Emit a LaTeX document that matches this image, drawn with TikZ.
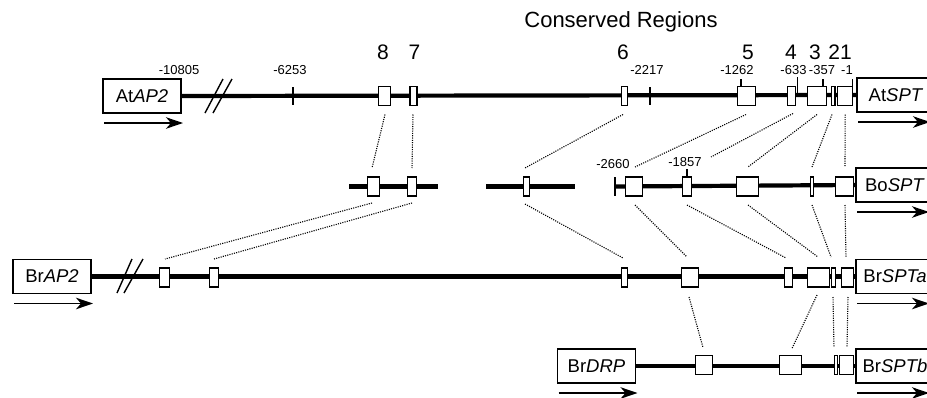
\documentclass[tikz,border=0pt]{standalone}
\usepackage{fontspec}
\setmainfont{Liberation Sans}
\usetikzlibrary{calc,arrows.meta}
\begin{document}
\begin{tikzpicture}[x=1pt,y=-1pt,
 seg/.style={line width=4.2pt},
 rbox/.style={draw, fill=white, line width=1.4pt, minimum height=19pt, inner sep=0pt, outer sep=0pt},
 gene/.style={draw, fill=white, line width=1.3pt, minimum width=78pt, minimum height=34pt, inner sep=0pt, outer sep=0pt, font=\fontsize{18.5}{20}\selectfont},
 conn/.style={line width=1.1pt, dash pattern=on 1.1pt off 1.2pt},
 tickmark/.style={line width=1.4pt},
 dir/.style={line width=1.5pt, -{Stealth[length=17pt,width=11.5pt,inset=5pt]}},
 big/.style={font=\fontsize{21}{24}\selectfont, anchor=base, inner sep=0pt},
 small/.style={font=\fontsize{13}{15}\selectfont, anchor=base, inner sep=0pt},
 brk/.style={line width=1.4pt}]
\useasboundingbox (0,0) rectangle (927,397);
\clip (0,0) rectangle (927,397);

% title and region numbers
\node[font=\fontsize{22}{26}\selectfont, anchor=base, inner sep=0pt] (title) at (621,27) {Conserved Regions};
\node[big] (n8) at (383,59) {8};
\node[big] (n7) at (414.5,59) {7};
\node[big] (n6) at (623,59) {6};
\node[big] (n5) at (748,59) {5};
\node[big] (n4) at (791,59) {4};
\node[big] (n3) at (815,59) {3};
\node[big] (n21) at (840,59) {21};

% ---------- genes ----------
\node[gene] (AtAP2) at (142,96) {At\textit{AP2}};
\node[gene] (AtSPT) at (896,95) {At\textit{SPT}};
\node[gene] (BoSPT) at (895,185) {Bo\textit{SPT}};
\node[gene] (BrAP2) at (52,276.5) {Br\textit{AP2}};
\node[gene] (BrSPTa) at (895,276.5) {Br\textit{SPTa}};
\node[gene] (BrDRP) at (596.5,366) {Br\textit{DRP}};
\node[gene] (BrSPTb) at (895,366) {Br\textit{SPTb}};

% direction arrows
\foreach \g in {AtAP2,BrAP2,BrDRP}
  \draw[dir] ($(\g.south west)+(1,10)$) -- ($(\g.south east)+(2,10)$);
\foreach \g in {AtSPT,BoSPT,BrSPTa,BrSPTb}
  \draw[dir] ($(\g.south west)+(1,10)$) -- ++(72,0);

% ---------- row 1 : At ----------
\draw[seg] (AtAP2.east) -- (AtSPT.west);
\draw[brk] (205,113) -- (223,79);
\draw[brk] (213,113) -- (232,79);
\coordinate (t6253) at (293,96);
\coordinate (t2217) at (650,96);
\draw[tickmark] ($(t6253)+(0,-9)$) -- ($(t6253)+(0,9)$);
\draw[tickmark] ($(t2217)+(0,-9)$) -- ($(t2217)+(0,9)$);
\node[rbox, minimum width=12pt] (A8) at (384.5,96) {};
\node[rbox, minimum width=7pt] (A7) at (413.5,96) {};
\node[rbox, minimum width=6pt] (A6) at (624.5,96) {};
\node[rbox, minimum width=18pt] (A5) at (746.5,96) {};
\node[rbox, minimum width=8pt] (A4) at (791.5,96) {};
\node[rbox, minimum width=19pt] (A3) at (817,96) {};
\node[rbox, minimum width=3.5pt] (A2) at (833.3,96) {};
\node[rbox, minimum width=15pt] (A1) at (845.2,96) {};
\draw[tickmark] ($(A5.north)+(-5.5,0)$) -- ++(0,-8);
\draw[tickmark] ($(A4.east)+(1.8,0)$) -- ++(0,-19);
\draw[tickmark] ($(A3.north)+(6,0)$) -- ++(0,-8);
\draw[tickmark] (A1.north east) -- ++(0,-8);
\node[small] (l10805) at (179,74.5) {-10805};
\node[small] (l6253) at (290,74.5) {-6253};
\node[small] (l2217) at (647,74.5) {-2217};
\node[small] (l1262) at (737,74.5) {-1262};
\node[small] (l633) at (793.5,74.5) {-633};
\node[small] (l357) at (822,74.5) {-357};
\node[small] (l1) at (847,74.5) {-1};

% ---------- row 2 : Bo ----------
\coordinate (b1s) at (349,186.5);
\coordinate (b1e) at (438,186.5);
\coordinate (b2s) at (486,186.5);
\coordinate (b2e) at (575,186.5);
\coordinate (b3s) at (615,186.5);
\draw[seg] (b1s) -- (b1e);
\draw[seg] (b2s) -- (b2e);
\draw[seg] (b3s) -- (BoSPT.west);
\draw[line width=1.9pt] ($(b3s)+(0,-9.5)$) -- ($(b3s)+(0,9.5)$);
\node[rbox, minimum width=12pt] (B8) at (373.5,186.5) {};
\node[rbox, minimum width=8.5pt] (B7) at (412,186.5) {};
\node[rbox, minimum width=6pt] (B6) at (526.5,186.5) {};
\node[rbox, minimum width=17pt] (B5) at (634,186.5) {};
\node[rbox, minimum width=9pt] (B4) at (687,186.5) {};
\node[rbox, minimum width=22pt] (B3) at (747.5,186.5) {};
\node[rbox, minimum width=3.5pt] (B2) at (812,186.5) {};
\node[rbox, minimum width=18pt] (B1) at (844.5,186.5) {};
\draw[tickmark] (B4.north) -- ++(0,-8);
\node[small] (l2660) at (613,168) {-2660};
\node[small] (l1857) at (685,166.5) {-1857};

% ---------- row 3 : Br ----------
\draw[seg] (BrAP2.east) -- (BrSPTa.west);
\draw[brk] (117,293) -- (132,259);
\draw[brk] (124,293) -- (143,259);
\node[rbox, minimum width=10pt] (R8) at (164.5,277.5) {};
\node[rbox, minimum width=8.5pt] (R7) at (214,277.5) {};
\node[rbox, minimum width=6pt] (R6) at (624.5,277.5) {};
\node[rbox, minimum width=17pt] (R5) at (690,277.5) {};
\node[rbox, minimum width=8pt] (R4) at (788.5,277.5) {};
\node[rbox, minimum width=22pt] (R3) at (818.5,277.5) {};
\node[rbox, minimum width=4pt] (R2) at (833.5,277.5) {};
\node[rbox, minimum width=12pt] (R1) at (847.5,277.5) {};

% ---------- row 4 : Br DRP ----------
\draw[seg] (BrDRP.east) -- (BrSPTb.west);
\node[rbox, minimum width=17pt] (D5) at (704,365) {};
\node[rbox, minimum width=22pt] (D3) at (790.5,365) {};
\node[rbox, minimum width=3.5pt] (D2) at (836,365) {};
\node[rbox, minimum width=14pt] (D1) at (846.5,365) {};

% ---------- dotted correspondences ----------
% At -> Bo
\draw[conn] ($(A8.south)+(0.5,9)$) -- ($(B8.north)+(-1.5,-9)$);
\draw[conn] ($(A7.south)+(-0.5,9)$) -- ($(B7.north)+(0,-9)$);
\draw[conn] ($(A6.south)+(-1.5,9)$) -- ($(B6.north)+(-1.5,-9)$);
\draw[conn] ($(A5.south)+(-0.5,9)$) -- ($(B5.north)+(1,-10)$);
\draw[conn] ($(A4.south)+(1.5,8)$) -- ($(B4.north)+(24,-20)$);
\draw[conn] ($(A3.south)+(0,9)$) -- ($(B3.north)+(0.5,-10)$);
\draw[conn] ($(A2.south)+(-1.3,9)$) -- ($(B2.north)+(0,-10)$);
\draw[conn] ($(A1.south)+(0,9)$) -- ($(B1.north)+(0.5,-10)$);
% Bo -> Br
\draw[conn] ($(B8.south)+(-1.5,7)$) -- ($(R8.north)+(0.5,-9)$);
\draw[conn] ($(B7.south)+(0,7)$) -- ($(R7.north)+(0,-9)$);
\draw[conn] ($(B6.south)+(-1.5,8)$) -- ($(R6.north)+(-1.5,-10)$);
\draw[conn] ($(B5.south)+(1,9)$) -- ($(R5.north)+(-3,-11)$);
\draw[conn] ($(B4.south)+(0,9)$) -- ($(R4.north)+(-2.5,-10)$);
\draw[conn] ($(B3.south)+(0.5,9)$) -- ($(R3.north)+(-0.5,-11)$);
\draw[conn] ($(B2.south)+(0,9)$) -- ($(R2.north)+(-2.5,-11)$);
\draw[conn] ($(B1.south)+(0.5,9)$) -- ($(R1.north)+(-1.5,-11)$);
% Br -> DRP
\draw[conn] ($(R5.south)+(-1,10)$) -- ($(D5.north)+(-1,-8)$);
\draw[conn] ($(R3.south)+(-1.5,8)$) -- ($(D3.north)+(1.5,-7)$);
\draw[conn] ($(R2.south)+(-0.5,10)$) -- ($(D2.north)+(-2,-8)$);
\draw[conn] ($(R1.south)+(0.5,10)$) -- ($(D1.north)+(0.5,-8)$);
\end{tikzpicture}
\end{document}
